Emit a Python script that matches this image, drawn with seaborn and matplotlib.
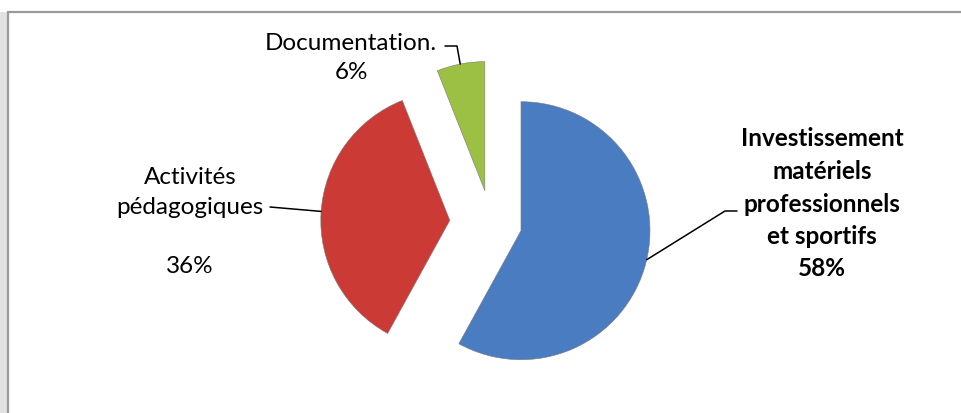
import numpy as np
import matplotlib
matplotlib.use("Agg")
import matplotlib.pyplot as plt
import seaborn as sns
from matplotlib.patches import Rectangle

# ------------------------------------------------ data ------------------------------------------------
labels = ["Investissement\nmatériels\nprofessionnels\net sportifs", "Activités\npédagogiques", "Documentation."]
shares = [58, 36, 6]
explode = [0.24, 0.32, 0.255]
colors = ["#4a7cc1", "#cc3a36", "#9cc043"]

sns.set_theme(style="white")
plt.rcParams["font.family"] = ["Lato", "DejaVu Sans"]

W, H = 962, 414
fig = plt.figure(figsize=(W / 100, H / 100), dpi=100)
ax = fig.add_axes([0, 0, 1, 1])

# chart frame + left shadow strip
ax.add_patch(Rectangle((0, 0), 8, H - 13, facecolor="#e2e2e2", edgecolor="none", zorder=0))
ax.add_patch(Rectangle((8, -20), W + 20, H - 13 + 20, facecolor="white", edgecolor="#9a9a9a", lw=1.6, zorder=0))

# pie, exploded, clockwise from 12 o'clock (matplotlib explode is in data units)
radius = 129
wedges, _ = ax.pie(shares, explode=[e * radius for e in explode], colors=colors, startangle=90,
                   counterclock=False, radius=radius, center=(491, 190), frame=True,
                   wedgeprops=dict(edgecolor="#7a7a7a", linewidth=0.4, zorder=2))
ax.set_xlim(0, W)
ax.set_ylim(0, H)
ax.set_aspect("equal")
ax.axis("off")


def arc_point(w, ang):
    a = np.deg2rad(ang)
    cx, cy = w.center
    return cx + w.r * np.cos(a), cy + w.r * np.sin(a)


txt = dict(ha="center", va="center", fontsize=17.5, color="black", linespacing=1.5)

# blue - bold label on the right
bx, by = arc_point(wedges[0], -13)
ax.plot([bx, 725, 737], [by, 202, 202], color="black", lw=1.1, zorder=3)
ax.text(822, 210, f"{labels[0]}\n{shares[0]}%", fontweight="bold", **txt)

# red - label on the left
rx, ry = arc_point(wedges[1], 176)
ax.plot([270, rx], [206, ry], color="black", lw=1.1, zorder=3)
ax.text(190, 192, f"{labels[1]}\n\n{shares[1]}%", **txt)

# green - label at the top
gx, gy = arc_point(wedges[2], 101)
ax.plot([445, 457, gx], [367, 367, gy], color="black", lw=1.1, zorder=3)
ax.text(351, 356, f"{labels[2]}\n{shares[2]}%", **txt)

fig.savefig("out.png", dpi=100)
